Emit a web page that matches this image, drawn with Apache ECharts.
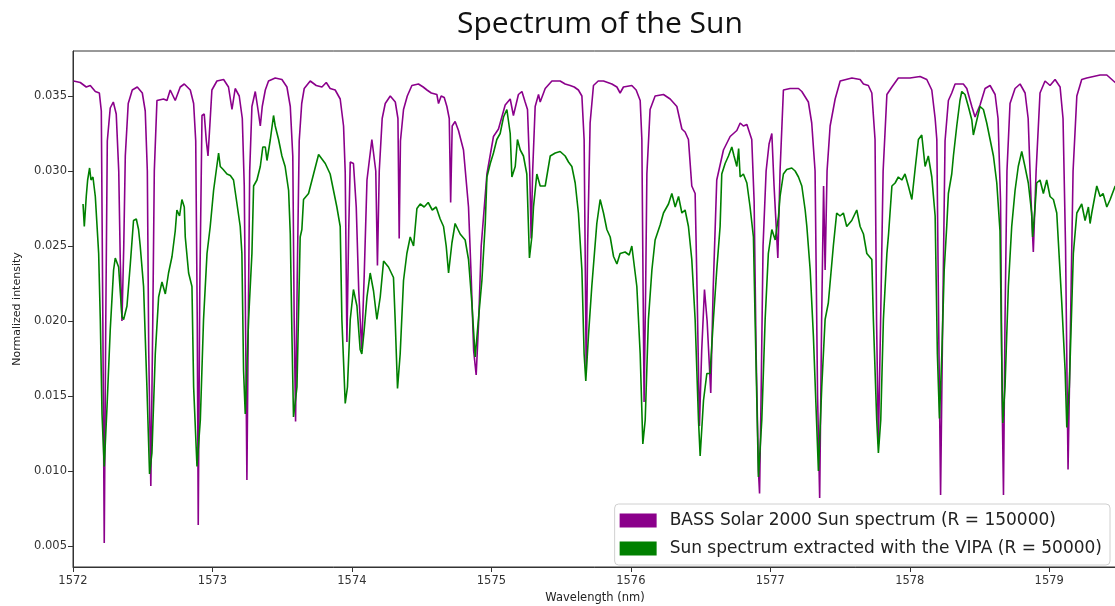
<!DOCTYPE html>
<html>
<head>
<meta charset="utf-8">
<title>Spectrum of the Sun</title>
<script src="https://cdn.jsdelivr.net/npm/echarts@6/dist/echarts.min.js"></script>
<style>
  html, body { margin: 0; padding: 0; background: #fff; }
  #chart { width: 1115px; height: 606px; }
</style>
</head>
<body>
<div id="chart"></div>
<script>
// wavelength (nm), normalized intensity
var bassSpectrum = [
[1572.004,0.0360],[1572.052,0.0359],[1572.095,0.0356],[1572.124,0.0357],[1572.160,0.0353],[1572.189,0.0352],[1572.203,0.0340],[1572.214,0.0200],[1572.224,0.0052],[1572.235,0.0200],[1572.246,0.0320],[1572.267,0.0342],[1572.289,0.0346],[1572.310,0.0338],[1572.328,0.0300],[1572.339,0.0240],[1572.351,0.0200],[1572.364,0.0250],[1572.375,0.0310],[1572.396,0.0345],[1572.425,0.0354],[1572.461,0.0356],[1572.497,0.0352],[1572.518,0.0340],[1572.533,0.0300],[1572.543,0.0180],[1572.558,0.0090],[1572.572,0.0200],[1572.583,0.0300],[1572.602,0.0347],[1572.649,0.0348],[1572.674,0.0347],[1572.697,0.0354],[1572.733,0.0347],[1572.769,0.0356],[1572.798,0.0358],[1572.841,0.0354],[1572.865,0.0345],[1572.880,0.0320],[1572.891,0.0200],[1572.898,0.0064],[1572.909,0.0220],[1572.925,0.0337],[1572.941,0.0338],[1572.956,0.0320],[1572.968,0.0310],[1572.981,0.0330],[1572.996,0.0354],
[1573.032,0.0360],[1573.080,0.0361],[1573.115,0.0356],[1573.140,0.0341],[1573.163,0.0355],[1573.192,0.0350],[1573.214,0.0335],[1573.228,0.0290],[1573.239,0.0180],[1573.247,0.0094],[1573.257,0.0200],[1573.267,0.0300],[1573.283,0.0343],[1573.307,0.0353],[1573.328,0.0340],[1573.343,0.0330],[1573.357,0.0343],[1573.379,0.0354],[1573.402,0.0360],[1573.450,0.0362],[1573.498,0.0361],[1573.534,0.0356],[1573.558,0.0343],[1573.576,0.0310],[1573.586,0.0200],[1573.596,0.0133],[1573.608,0.0230],[1573.622,0.0320],[1573.640,0.0345],[1573.658,0.0355],[1573.701,0.0360],[1573.744,0.0357],[1573.785,0.0356],[1573.816,0.0359],[1573.844,0.0355],[1573.880,0.0354],[1573.916,0.0348],[1573.940,0.0330],[1573.952,0.0299],[1573.964,0.0186],[1573.977,0.0260],[1573.988,0.0306],
[1574.011,0.0305],[1574.031,0.0276],[1574.049,0.0220],[1574.070,0.0181],[1574.088,0.0230],[1574.108,0.0294],[1574.143,0.0321],[1574.156,0.0322],[1574.171,0.0300],[1574.183,0.0237],[1574.196,0.0300],[1574.217,0.0335],[1574.239,0.0345],[1574.275,0.0350],[1574.311,0.0346],[1574.330,0.0335],[1574.339,0.0255],[1574.348,0.0320],[1574.370,0.0341],[1574.397,0.0350],[1574.430,0.0357],[1574.477,0.0358],[1574.511,0.0356],[1574.538,0.0354],[1574.569,0.0352],[1574.609,0.0351],[1574.621,0.0345],[1574.640,0.0350],[1574.662,0.0349],[1574.681,0.0343],[1574.698,0.0335],[1574.708,0.0279],[1574.719,0.0330],[1574.740,0.0333],[1574.764,0.0327],[1574.800,0.0314],[1574.836,0.0276],[1574.855,0.0230],[1574.873,0.0180],[1574.891,0.0164],[1574.909,0.0200],[1574.927,0.0250],[1574.968,0.0298],
[1575.015,0.0323],[1575.051,0.0328],[1575.099,0.0344],[1575.135,0.0348],[1575.158,0.0337],[1575.194,0.0351],[1575.219,0.0353],[1575.242,0.0346],[1575.259,0.0341],[1575.275,0.0300],[1575.285,0.0255],[1575.296,0.0300],[1575.314,0.0343],[1575.338,0.0351],[1575.350,0.0346],[1575.386,0.0355],[1575.434,0.0360],[1575.493,0.0360],[1575.529,0.0358],[1575.565,0.0357],[1575.594,0.0356],[1575.624,0.0354],[1575.649,0.0350],[1575.665,0.0321],[1575.672,0.0250],[1575.680,0.0165],[1575.690,0.0250],[1575.708,0.0332],[1575.732,0.0357],[1575.766,0.0360],[1575.804,0.0360],[1575.864,0.0358],[1575.900,0.0356],[1575.923,0.0352],[1575.947,0.0356],
[1576.007,0.0357],[1576.038,0.0354],[1576.067,0.0347],[1576.079,0.0321],[1576.088,0.0220],[1576.095,0.0146],[1576.106,0.0220],[1576.115,0.0298],[1576.138,0.0341],[1576.174,0.0350],[1576.234,0.0351],[1576.282,0.0348],[1576.330,0.0343],[1576.366,0.0328],[1576.389,0.0326],[1576.413,0.0321],[1576.437,0.0290],[1576.461,0.0285],[1576.475,0.0220],[1576.492,0.0130],[1576.508,0.0180],[1576.528,0.0221],[1576.547,0.0200],[1576.573,0.0152],[1576.590,0.0220],[1576.616,0.0294],[1576.664,0.0314],[1576.712,0.0323],[1576.760,0.0327],[1576.784,0.0332],[1576.807,0.0330],[1576.832,0.0331],[1576.867,0.0321],[1576.884,0.0280],[1576.898,0.0180],[1576.915,0.0100],[1576.923,0.0085],[1576.934,0.0150],[1576.948,0.0250],[1576.970,0.0300],[1576.991,0.0318],
[1577.011,0.0325],[1577.027,0.0290],[1577.054,0.0242],[1577.070,0.0300],[1577.094,0.0354],[1577.142,0.0355],[1577.202,0.0355],[1577.226,0.0353],[1577.273,0.0346],[1577.297,0.0332],[1577.321,0.0300],[1577.339,0.0150],[1577.354,0.0082],[1577.368,0.0200],[1577.382,0.0290],[1577.393,0.0234],[1577.407,0.0300],[1577.429,0.0330],[1577.465,0.0348],[1577.501,0.0360],[1577.585,0.0362],[1577.644,0.0361],[1577.668,0.0358],[1577.703,0.0357],[1577.728,0.0352],[1577.751,0.0321],[1577.762,0.0200],[1577.775,0.0118],[1577.791,0.0200],[1577.809,0.0300],[1577.836,0.0351],[1577.872,0.0356],[1577.918,0.0362],
[1578.002,0.0362],[1578.074,0.0363],[1578.122,0.0361],[1578.158,0.0354],[1578.182,0.0335],[1578.194,0.0321],[1578.207,0.0200],[1578.221,0.0084],[1578.236,0.0200],[1578.253,0.0320],[1578.277,0.0347],[1578.301,0.0352],[1578.325,0.0358],[1578.384,0.0358],[1578.409,0.0355],[1578.445,0.0343],[1578.468,0.0336],[1578.504,0.0344],[1578.540,0.0355],[1578.576,0.0357],[1578.612,0.0351],[1578.633,0.0335],[1578.651,0.0280],[1578.662,0.0150],[1578.672,0.0084],[1578.683,0.0200],[1578.697,0.0300],[1578.719,0.0345],[1578.755,0.0355],[1578.791,0.0358],[1578.827,0.0352],[1578.849,0.0335],[1578.870,0.0280],[1578.886,0.0246],[1578.906,0.0300],[1578.934,0.0352],[1578.970,0.0360],
[1579.006,0.0357],[1579.042,0.0361],[1579.078,0.0356],[1579.099,0.0335],[1579.117,0.0250],[1579.135,0.0101],[1579.153,0.0200],[1579.171,0.0300],[1579.198,0.0350],[1579.233,0.0361],[1579.269,0.0362],[1579.317,0.0363],[1579.365,0.0364],[1579.413,0.0364],[1579.461,0.0360],[1579.486,0.0358]
];

var vipaSpectrum = [
[1572.072,0.0278],[1572.081,0.0263],[1572.095,0.0283],[1572.105,0.0294],[1572.119,0.0302],[1572.129,0.0294],[1572.143,0.0296],[1572.160,0.0283],[1572.184,0.0245],[1572.196,0.0200],[1572.208,0.0138],[1572.224,0.0103],[1572.244,0.0143],[1572.267,0.0194],[1572.291,0.0234],[1572.303,0.0242],[1572.327,0.0236],[1572.351,0.0203],[1572.363,0.0201],[1572.387,0.0210],[1572.411,0.0238],[1572.434,0.0267],[1572.454,0.0268],[1572.470,0.0261],[1572.482,0.0250],[1572.506,0.0223],[1572.530,0.0156],[1572.549,0.0098],[1572.566,0.0112],[1572.590,0.0178],[1572.614,0.0216],[1572.638,0.0226],[1572.662,0.0218],[1572.685,0.0232],[1572.710,0.0243],[1572.733,0.0260],[1572.745,0.0274],[1572.764,0.0270],[1572.781,0.0281],[1572.798,0.0276],[1572.805,0.0256],[1572.829,0.0232],[1572.853,0.0223],[1572.865,0.0156],[1572.889,0.0103],[1572.913,0.0134],[1572.936,0.0201],[1572.961,0.0245],[1572.984,0.0263],
[1573.008,0.0287],[1573.044,0.0312],[1573.056,0.0303],[1573.077,0.0301],[1573.104,0.0298],[1573.128,0.0297],[1573.151,0.0294],[1573.176,0.0278],[1573.199,0.0263],[1573.211,0.0245],[1573.223,0.0167],[1573.235,0.0138],[1573.259,0.0201],[1573.283,0.0245],[1573.295,0.0290],[1573.319,0.0294],[1573.343,0.0303],[1573.361,0.0316],[1573.379,0.0316],[1573.391,0.0307],[1573.415,0.0321],[1573.438,0.0337],[1573.450,0.0330],[1573.474,0.0321],[1573.498,0.0310],[1573.521,0.0303],[1573.546,0.0287],[1573.558,0.0258],[1573.570,0.0190],[1573.581,0.0136],[1573.606,0.0156],[1573.629,0.0256],[1573.641,0.0261],[1573.653,0.0281],[1573.689,0.0285],[1573.725,0.0298],[1573.761,0.0311],[1573.785,0.0308],[1573.809,0.0305],[1573.844,0.0298],[1573.868,0.0287],[1573.892,0.0276],[1573.916,0.0263],[1573.928,0.0201],[1573.952,0.0145],[1573.968,0.0156],[1573.988,0.0201],
[1574.011,0.0221],[1574.036,0.0210],[1574.059,0.0181],[1574.071,0.0178],[1574.088,0.0194],[1574.108,0.0216],[1574.131,0.0232],[1574.155,0.0220],[1574.179,0.0201],[1574.203,0.0216],[1574.227,0.0240],[1574.262,0.0236],[1574.298,0.0229],[1574.310,0.0201],[1574.327,0.0155],[1574.346,0.0178],[1574.370,0.0227],[1574.394,0.0245],[1574.418,0.0256],[1574.442,0.0250],[1574.466,0.0275],[1574.490,0.0278],[1574.518,0.0276],[1574.547,0.0279],[1574.576,0.0274],[1574.604,0.0276],[1574.633,0.0268],[1574.657,0.0263],[1574.676,0.0250],[1574.693,0.0232],[1574.717,0.0252],[1574.740,0.0265],[1574.776,0.0258],[1574.812,0.0254],[1574.836,0.0241],[1574.860,0.0212],[1574.884,0.0176],[1574.907,0.0201],[1574.932,0.0227],[1574.956,0.0265],[1574.968,0.0296],[1574.992,0.0305],
[1575.015,0.0312],[1575.039,0.0321],[1575.063,0.0325],[1575.087,0.0336],[1575.111,0.0341],[1575.135,0.0325],[1575.147,0.0296],[1575.171,0.0303],[1575.187,0.0321],[1575.207,0.0314],[1575.230,0.0310],[1575.254,0.0298],[1575.273,0.0242],[1575.290,0.0256],[1575.302,0.0276],[1575.326,0.0298],[1575.350,0.0290],[1575.386,0.0290],[1575.422,0.0310],[1575.458,0.0312],[1575.493,0.0313],[1575.529,0.0310],[1575.553,0.0306],[1575.577,0.0303],[1575.601,0.0292],[1575.624,0.0272],[1575.649,0.0234],[1575.665,0.0178],[1575.677,0.0160],[1575.696,0.0190],[1575.720,0.0223],[1575.756,0.0265],[1575.780,0.0281],[1575.804,0.0272],[1575.828,0.0261],[1575.852,0.0256],[1575.876,0.0243],[1575.900,0.0238],[1575.923,0.0245],[1575.959,0.0246],[1575.988,0.0244],
[1576.007,0.0250],[1576.019,0.0241],[1576.043,0.0223],[1576.067,0.0178],[1576.086,0.0118],[1576.103,0.0134],[1576.126,0.0201],[1576.151,0.0234],[1576.174,0.0254],[1576.210,0.0264],[1576.234,0.0272],[1576.270,0.0278],[1576.294,0.0285],[1576.318,0.0276],[1576.342,0.0283],[1576.366,0.0272],[1576.389,0.0274],[1576.413,0.0263],[1576.437,0.0241],[1576.461,0.0201],[1576.485,0.0134],[1576.497,0.0110],[1576.521,0.0147],[1576.545,0.0165],[1576.568,0.0165],[1576.592,0.0201],[1576.616,0.0234],[1576.640,0.0263],[1576.652,0.0298],[1576.676,0.0305],[1576.700,0.0310],[1576.724,0.0316],[1576.740,0.0310],[1576.760,0.0303],[1576.773,0.0315],[1576.784,0.0296],[1576.807,0.0298],[1576.832,0.0292],[1576.855,0.0276],[1576.879,0.0256],[1576.891,0.0201],[1576.915,0.0096],[1576.939,0.0134],[1576.963,0.0201],[1576.986,0.0245],
[1577.011,0.0261],[1577.035,0.0254],[1577.059,0.0270],[1577.070,0.0283],[1577.094,0.0298],[1577.118,0.0301],[1577.154,0.0302],[1577.178,0.0300],[1577.202,0.0296],[1577.226,0.0290],[1577.250,0.0274],[1577.262,0.0263],[1577.286,0.0234],[1577.309,0.0190],[1577.345,0.0100],[1577.369,0.0156],[1577.393,0.0201],[1577.416,0.0212],[1577.452,0.0250],[1577.476,0.0272],[1577.500,0.0270],[1577.524,0.0272],[1577.548,0.0263],[1577.584,0.0267],[1577.620,0.0274],[1577.644,0.0263],[1577.668,0.0258],[1577.692,0.0245],[1577.728,0.0241],[1577.739,0.0201],[1577.763,0.0134],[1577.775,0.0112],[1577.792,0.0134],[1577.811,0.0201],[1577.836,0.0245],[1577.848,0.0258],[1577.872,0.0290],[1577.895,0.0292],[1577.918,0.0296],[1577.943,0.0294],[1577.966,0.0298],[1577.990,0.0290],
[1578.015,0.0281],[1578.038,0.0301],[1578.062,0.0321],[1578.086,0.0324],[1578.110,0.0303],[1578.133,0.0310],[1578.158,0.0296],[1578.182,0.0270],[1578.198,0.0178],[1578.213,0.0135],[1578.230,0.0178],[1578.247,0.0234],[1578.265,0.0263],[1578.277,0.0285],[1578.301,0.0298],[1578.313,0.0310],[1578.337,0.0330],[1578.360,0.0347],[1578.373,0.0353],[1578.396,0.0351],[1578.420,0.0343],[1578.445,0.0334],[1578.456,0.0324],[1578.481,0.0334],[1578.504,0.0343],[1578.528,0.0341],[1578.552,0.0332],[1578.576,0.0321],[1578.600,0.0310],[1578.624,0.0292],[1578.647,0.0260],[1578.659,0.0178],[1578.667,0.0132],[1578.683,0.0156],[1578.707,0.0223],[1578.731,0.0263],[1578.755,0.0287],[1578.778,0.0303],[1578.803,0.0313],[1578.826,0.0303],[1578.850,0.0292],[1578.874,0.0272],[1578.881,0.0256],[1578.898,0.0275],[1578.910,0.0292],[1578.934,0.0294],[1578.958,0.0285],[1578.982,0.0294],
[1579.006,0.0283],[1579.030,0.0281],[1579.054,0.0272],[1579.066,0.0252],[1579.090,0.0212],[1579.114,0.0167],[1579.126,0.0129],[1579.144,0.0156],[1579.173,0.0245],[1579.198,0.0272],[1579.233,0.0278],[1579.257,0.0267],[1579.281,0.0276],[1579.293,0.0265],[1579.305,0.0272],[1579.341,0.0290],[1579.365,0.0283],[1579.386,0.0285],[1579.413,0.0276],[1579.437,0.0281],[1579.473,0.0290],[1579.486,0.0288]
];

var xTicks = [1572, 1573, 1574, 1575, 1576, 1577, 1578, 1579];
var yTicks = [0.005, 0.010, 0.015, 0.020, 0.025, 0.030, 0.035];
var seriesNames = ['BASS Solar 2000 Sun spectrum (R = 150000)', 'Sun spectrum extracted with the VIPA (R = 50000)'];

var chart = echarts.init(document.getElementById('chart'));
var axisFont = 'DejaVu Sans';

var option = {
    animation: false,
    backgroundColor: '#fff',
    title: {
        text: 'Spectrum of the Sun',
        left: 452,
        top: 4,
        textStyle: { fontFamily: 'Open Sans', fontSize: 30, fontWeight: 'normal', color: '#111' }
    },
    grid: {
        left: 73, right: -2, top: 51, bottom: 39,
        containLabel: false,
        outerBoundsMode: 'none',
        show: true, borderColor: '#333', borderWidth: 1
    },
    legend: {
        orient: 'vertical',
        right: 5,
        bottom: 41,
        data: seriesNames,
        icon: 'rect',
        itemWidth: 37,
        itemHeight: 14,
        itemGap: 11,
        padding: [8, 8, 8, 5],
        backgroundColor: 'rgba(255,255,255,0.85)',
        borderColor: '#d0d0d0',
        borderWidth: 1,
        borderRadius: 4,
        textStyle: { fontFamily: axisFont, fontSize: 17, color: '#222', padding: [0, 0, 0, 8] }
    },
    xAxis: {
        type: 'value',
        min: 1572,
        max: 1579.486,
        name: 'Wavelength (nm)',
        nameLocation: 'middle',
        nameGap: 25,
        nameTextStyle: { fontFamily: axisFont, fontSize: 11.5, color: '#222' },
        axisLine: { lineStyle: { color: '#333' } },
        axisTick: { length: 5, lineStyle: { color: '#333' }, customValues: xTicks },
        axisLabel: {
            fontFamily: axisFont, fontSize: 11.5, color: '#333', margin: 8,
            customValues: xTicks,
            formatter: function (v) { return String(Math.round(v)); }
        },
        splitLine: { show: false }
    },
    yAxis: {
        type: 'value',
        min: 0.0036,
        max: 0.038,
        name: 'Normalized intensity',
        nameLocation: 'middle',
        nameGap: 50,
        nameTextStyle: { fontFamily: axisFont, fontSize: 11, color: '#222' },
        axisLine: { show: true, lineStyle: { color: '#333' } },
        axisTick: { show: true, length: 5, lineStyle: { color: '#333' }, customValues: yTicks },
        axisLabel: {
            fontFamily: axisFont, fontSize: 11.5, color: '#333', margin: 6,
            customValues: yTicks,
            formatter: function (v) { return v.toFixed(3); }
        },
        splitLine: { show: false }
    },
    series: [
        {
            name: seriesNames[0],
            type: 'line',
            data: bassSpectrum,
            symbol: 'none',
            color: '#8b008b',
            lineStyle: { width: 1.6, color: '#8b008b' }
        },
        {
            name: seriesNames[1],
            type: 'line',
            data: vipaSpectrum,
            symbol: 'none',
            color: '#008000',
            lineStyle: { width: 1.6, color: '#008000' }
        }
    ]
};
chart.setOption(option);
</script>
</body>
</html>
